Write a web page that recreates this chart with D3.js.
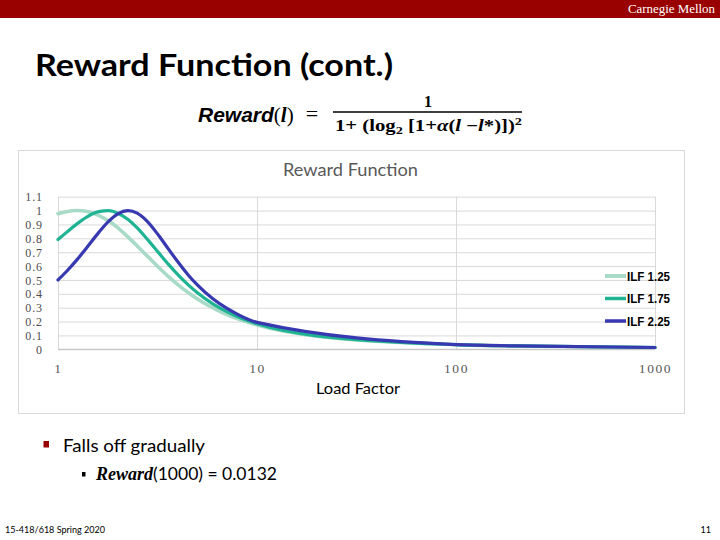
<!DOCTYPE html>
<html>
<head>
<meta charset="utf-8">
<script src="https://cdn.jsdelivr.net/npm/d3@7"></script>
<style>
  html, body { margin: 0; padding: 0; background: #fff; }
  svg { display: block; }
</style>
</head>
<body>
<svg id="slide" width="720" height="540"></svg>
<script>
// ---------- data ----------
const seriesNames = ["ILF 1.25", "ILF 1.75", "ILF 2.25"];
const ilf125X = [1, 1.1, 1.25, 1.4, 1.6, 1.8, 2, 2.25, 2.5, 2.8, 3.2, 3.6, 4, 4.5, 5, 6, 7, 8, 10, 20, 100, 200, 1000];
const ilf125Y = [0.977, 0.992, 1.0, 0.993, 0.966, 0.924, 0.875, 0.809, 0.745, 0.674, 0.591, 0.522, 0.466, 0.409, 0.364, 0.298, 0.252, 0.219, 0.175, 0.095, 0.034, 0.024, 0.013];
const ilf175X = [1, 1.1, 1.25, 1.4, 1.6, 1.8, 2, 2.25, 2.5, 2.8, 3.2, 3.6, 4, 4.5, 5, 6, 7, 8, 10, 20, 100, 200, 1000];
const ilf175Y = [0.791, 0.841, 0.906, 0.955, 0.992, 0.999, 0.981, 0.935, 0.875, 0.796, 0.697, 0.610, 0.538, 0.466, 0.409, 0.327, 0.273, 0.234, 0.184, 0.097, 0.034, 0.024, 0.013];
const ilf225X = [1, 1.1, 1.25, 1.4, 1.6, 1.8, 2, 2.25, 2.5, 2.8, 3.2, 3.6, 4, 4.5, 5, 6, 7, 8, 10, 100, 200, 1000];
const ilf225Y = [0.5, 0.559, 0.648, 0.736, 0.841, 0.924, 0.977, 1.0, 0.981, 0.924, 0.822, 0.720, 0.631, 0.538, 0.466, 0.364, 0.298, 0.252, 0.194, 0.034, 0.024, 0.013];
const xTickValues = [1, 10, 100, 1000];
const xTickLabels = ["1", "10", "100", "1000"];
const yTickValues = [0, 0.1, 0.2, 0.3, 0.4, 0.5, 0.6, 0.7, 0.8, 0.9, 1, 1.1];
const yTickLabels = ["0", "0.1", "0.2", "0.3", "0.4", "0.5", "0.6", "0.7", "0.8", "0.9", "1", "1.1"];

// ---------- styles ----------
const colors = ["#a8dbc7", "#1fb393", "#3838b0"];
const widths = [3.6, 3.2, 3.2];
const calibri = "Lato, 'Open Sans', 'Noto Sans', sans-serif";

const svg = d3.select("#slide");

// ---------- slide chrome ----------
svg.append("rect").attr("x", 0).attr("y", 0).attr("width", 720).attr("height", 18).attr("fill", "#990000");
svg.append("text").attr("x", 715).attr("y", 13).attr("text-anchor", "end")
  .attr("font-family", "'Liberation Serif', serif").attr("font-size", 12)
  .attr("textLength", 87).attr("lengthAdjust", "spacingAndGlyphs")
  .attr("fill", "#fff").text("Carnegie Mellon");

svg.append("text").attr("x", 35).attr("y", 76)
  .attr("font-family", calibri).attr("font-weight", "bold").attr("font-size", 30)
  .attr("textLength", 358).attr("lengthAdjust", "spacingAndGlyphs")
  .attr("fill", "#000").text("Reward Function (cont.)");

// formula
const f1 = svg.append("text").attr("x", 198).attr("y", 122)
  .attr("font-family", "'Liberation Sans', Arial, sans-serif").attr("font-size", 21)
  .attr("font-weight", "bold").attr("fill", "#000");
f1.append("tspan").attr("font-style", "italic").text("Reward");
f1.append("tspan").attr("font-weight", "normal").attr("font-family", "'Liberation Serif', serif").text("(");
f1.append("tspan").attr("font-style", "italic").attr("font-family", "'Liberation Serif', serif").text("l");
f1.append("tspan").attr("font-weight", "normal").attr("font-family", "'Liberation Serif', serif").text(")");
svg.append("text").attr("x", 312).attr("y", 121).attr("text-anchor", "middle")
  .attr("font-family", "'Liberation Serif', serif").attr("font-size", 22).attr("fill", "#000").text("=");
svg.append("line").attr("x1", 333).attr("x2", 522).attr("y1", 112).attr("y2", 112)
  .attr("stroke", "#000").attr("stroke-width", 1.3);
svg.append("text").attr("x", 428).attr("y", 107).attr("text-anchor", "middle")
  .attr("font-family", "'Liberation Serif', serif").attr("font-weight", "bold").attr("font-size", 16)
  .attr("fill", "#000").text("1");
const den = svg.append("text").attr("x", 335).attr("y", 131)
  .attr("font-family", "'Liberation Serif', serif").attr("font-weight", "bold").attr("font-size", 16)
  .attr("textLength", 187).attr("lengthAdjust", "spacingAndGlyphs").attr("fill", "#000");
den.append("tspan").text("1+ (log");
den.append("tspan").attr("font-size", 11).attr("dy", 3).text("2");
den.append("tspan").attr("dy", -3).text(" [1+");
den.append("tspan").attr("font-style", "italic").text("α");
den.append("tspan").text("(");
den.append("tspan").attr("font-style", "italic").text("l");
den.append("tspan").text(" −");
den.append("tspan").attr("font-style", "italic").text("l");
den.append("tspan").text("*)])");
den.append("tspan").attr("font-size", 11).attr("dy", -6).text("2");

// ---------- chart ----------
svg.append("rect").attr("x", 18.5).attr("y", 150.5).attr("width", 666).attr("height", 263)
  .attr("fill", "#fff").attr("stroke", "#d9d9d9").attr("stroke-width", 1);

const x0 = 58, x1 = 655, yTop = 196.7, yBot = 349.3;
const x = d3.scaleLog().domain([1, 1000]).range([x0, x1]);
const y = d3.scaleLinear().domain([0, 1.1]).range([yBot, yTop]);

const gy = svg.append("g").attr("transform", `translate(${x0},0)`)
  .call(d3.axisLeft(y).tickValues(yTickValues).tickSize(-(x1 - x0)).tickPadding(15)
    .tickFormat((d, i) => yTickLabels[i]));
gy.select(".domain").remove();
gy.selectAll(".tick line").attr("stroke", "#d9d9d9").attr("stroke-width", 1);
gy.selectAll(".tick text").attr("fill", "#4d4d4d")
  .attr("font-family", "'Liberation Serif', serif").attr("font-size", 12)
  .attr("letter-spacing", 0.9).attr("dy", "0.34em");

const gx = svg.append("g").attr("transform", `translate(0,${yBot})`)
  .call(d3.axisBottom(x).tickValues(xTickValues).tickSize(-(yBot - yTop)).tickPadding(14)
    .tickFormat((d, i) => xTickLabels[i]));
gx.select(".domain").remove();
gx.selectAll(".tick line").attr("stroke", "#d9d9d9").attr("stroke-width", 1);
gx.selectAll(".tick text").attr("fill", "#595959")
  .attr("font-family", "'Liberation Serif', serif").attr("font-size", 13.5)
  .attr("letter-spacing", 1.6);

svg.append("line").attr("x1", x0).attr("x2", x1).attr("y1", yBot).attr("y2", yBot)
  .attr("stroke", "#bfbfbf").attr("stroke-width", 1);

svg.append("text").attr("x", 350.5).attr("y", 176).attr("text-anchor", "middle")
  .attr("font-family", calibri).attr("font-size", 17).attr("fill", "#595959")
  .attr("textLength", 135).attr("lengthAdjust", "spacingAndGlyphs").text("Reward Function");
svg.append("text").attr("x", 358).attr("y", 394).attr("text-anchor", "middle")
  .attr("font-family", calibri).attr("font-size", 15).attr("fill", "#000")
  .attr("textLength", 84).attr("lengthAdjust", "spacingAndGlyphs").text("Load Factor");

const series = [
  { name: seriesNames[0], xs: ilf125X, ys: ilf125Y },
  { name: seriesNames[1], xs: ilf175X, ys: ilf175Y },
  { name: seriesNames[2], xs: ilf225X, ys: ilf225Y }
];
const line = d3.line().x(d => x(d[0])).y(d => y(d[1])).curve(d3.curveMonotoneX);
series.forEach((s, i) => {
  svg.append("path").datum(s.xs.map((v, j) => [v, s.ys[j]]))
    .attr("d", line).attr("fill", "none").attr("stroke", colors[i])
    .attr("stroke-width", widths[i]).attr("stroke-linejoin", "round").attr("stroke-linecap", "round");
});

// legend
const legY = [276, 298.5, 321];
series.forEach((s, i) => {
  svg.append("line").attr("x1", 605).attr("x2", 626).attr("y1", legY[i]).attr("y2", legY[i])
    .attr("stroke", colors[i]).attr("stroke-width", widths[i] + 0.3);
  svg.append("text").attr("x", 627).attr("y", legY[i] + 4.5)
    .attr("font-family", "'Liberation Sans Narrow', 'Liberation Sans', sans-serif")
    .attr("font-weight", "bold").attr("font-size", 12.5).attr("fill", "#000")
    .attr("textLength", 43).attr("lengthAdjust", "spacingAndGlyphs").text(s.name);
});

// ---------- bullets & footer ----------
svg.append("rect").attr("x", 43.5).attr("y", 441).attr("width", 5.5).attr("height", 6.5).attr("fill", "#990000");
svg.append("text").attr("x", 63).attr("y", 452)
  .attr("font-family", calibri).attr("font-size", 17.5).attr("fill", "#000")
  .attr("textLength", 142).attr("lengthAdjust", "spacingAndGlyphs").text("Falls off gradually");
svg.append("rect").attr("x", 82).attr("y", 472).attr("width", 3.5).attr("height", 4.5).attr("fill", "#000");
const b2 = svg.append("text").attr("x", 96).attr("y", 480).attr("fill", "#000").attr("font-size", 17.5);
b2.append("tspan").attr("font-family", "'Liberation Serif', serif").attr("font-weight", "bold")
  .attr("font-style", "italic").attr("font-size", 18).text("Reward");
b2.append("tspan").attr("font-family", calibri).text("(1000) = 0.0132");

svg.append("text").attr("x", 5).attr("y", 533).attr("font-family", calibri).attr("font-size", 8.5)
  .attr("fill", "#000").attr("textLength", 100).attr("lengthAdjust", "spacingAndGlyphs").text("15-418/618 Spring 2020");
svg.append("text").attr("x", 711).attr("y", 533).attr("text-anchor", "end").attr("font-family", calibri)
  .attr("font-size", 9).attr("fill", "#000").text("11");
</script>
</body>
</html>
